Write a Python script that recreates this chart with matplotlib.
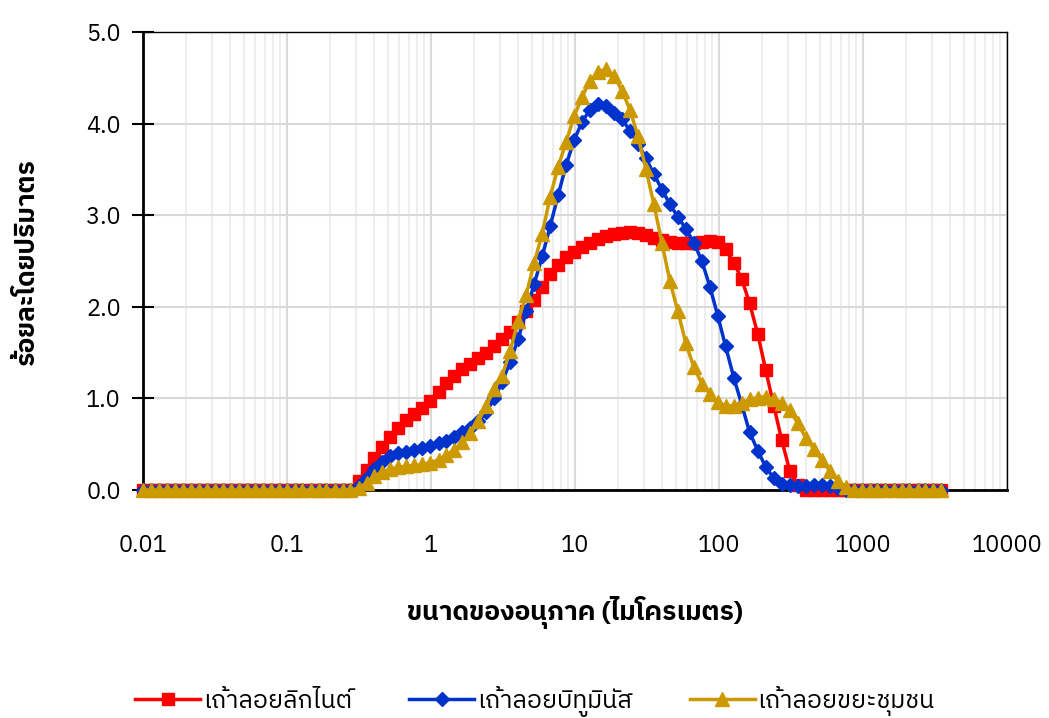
import numpy as np
import matplotlib
matplotlib.use("Agg")
import matplotlib.pyplot as plt
from matplotlib import font_manager
from matplotlib.ticker import FixedLocator, NullFormatter, FormatStrFormatter
from matplotlib.ft2font import FT2Font

# particle size classes (um)
size = [0.0100, 0.0114, 0.0129, 0.0147, 0.0167, 0.0189, 0.0215, 0.0244, 0.0278, 0.0315,
        0.0358, 0.0407, 0.0463, 0.0526, 0.0597, 0.0679, 0.0771, 0.0876, 0.0995, 0.113,
        0.128, 0.146, 0.166, 0.188, 0.214, 0.243, 0.276, 0.314, 0.357, 0.405,
        0.460, 0.523, 0.594, 0.675, 0.767, 0.872, 0.991, 1.13, 1.28, 1.45,
        1.65, 1.88, 2.13, 2.42, 2.75, 3.12, 3.55, 4.03, 4.58, 5.21,
        5.92, 6.72, 7.64, 8.68, 9.86, 11.2, 12.7, 14.5, 16.4, 18.7,
        21.2, 24.1, 27.4, 31.1, 35.3, 40.1, 45.6, 51.8, 58.9, 66.9,
        76.0, 86.4, 98.1, 111, 127, 144, 163, 186, 211, 240,
        272, 310, 352, 400, 454, 516, 586, 666, 756, 859,
        976, 1110, 1260, 1430, 1630, 1850, 2100, 2390, 2710, 3080, 3500]

lignite = [0.0] * 27 + [
    0.10, 0.22, 0.35, 0.47, 0.58, 0.68, 0.76, 0.83, 0.90,                # k27-35
    0.97, 1.07, 1.17, 1.25, 1.32, 1.38, 1.44, 1.50, 1.57, 1.65,          # k36-45
    1.72, 1.83, 1.95, 2.08, 2.22, 2.36, 2.46, 2.54, 2.60, 2.65,          # k46-55
    2.70, 2.74, 2.77, 2.80, 2.81, 2.82, 2.81, 2.78, 2.75, 2.73,          # k56-65
    2.71, 2.70, 2.70, 2.70, 2.71, 2.72, 2.71, 2.63, 2.48, 2.30,          # k66-75
    2.04, 1.70, 1.31, 0.92, 0.55, 0.21, 0.05] + [0.0] * 18               # k76-82

bituminous = [0.0] * 27 + [
    0.04, 0.13, 0.23, 0.31, 0.37, 0.40, 0.42, 0.44, 0.46,                # k27-35
    0.48, 0.51, 0.54, 0.58, 0.63, 0.68, 0.75, 0.85, 1.00, 1.18,          # k36-45
    1.40, 1.65, 1.95, 2.25, 2.55, 2.88, 3.22, 3.55, 3.82, 4.02,          # k46-55
    4.15, 4.21, 4.19, 4.12, 4.05, 3.92, 3.78, 3.62, 3.45, 3.28,          # k56-65
    3.12, 2.98, 2.85, 2.70, 2.50, 2.22, 1.90, 1.57, 1.22, 0.93,          # k66-75
    0.63, 0.43, 0.25, 0.13, 0.07, 0.05, 0.04, 0.04, 0.05, 0.05,          # k76-85
    0.04, 0.02] + [0.0] * 13

municipal = [0.0] * 27 + [
    0.02, 0.08, 0.15, 0.20, 0.23, 0.25, 0.26, 0.27, 0.28,                # k27-35
    0.30, 0.33, 0.38, 0.44, 0.52, 0.62, 0.75, 0.92, 1.10, 1.25,          # k36-45
    1.52, 1.85, 2.13, 2.48, 2.80, 3.20, 3.53, 3.80, 4.08, 4.29,          # k46-55
    4.47, 4.56, 4.60, 4.52, 4.36, 4.15, 3.86, 3.50, 3.12, 2.70,          # k56-65
    2.28, 1.95, 1.60, 1.34, 1.16, 1.05, 0.96, 0.92, 0.92, 0.95,          # k66-75
    0.99, 1.01, 1.02, 0.99, 0.95, 0.87, 0.73, 0.57, 0.45, 0.33,          # k76-85
    0.21, 0.10, 0.03] + [0.0] * 12

labels = ["เถ้าลอยลิกไนต์", "เถ้าลอยบิทูมินัส", "เถ้าลอยขยะชุมชน"]
xlabel = "ขนาดของอนุภาค (ไมโครเมตร)"
ylabel = "ร้อยละโดยปริมาตร"
xticks = [0.01, 0.1, 1, 10, 100, 1000, 10000]
xticklabels = ["0.01", "0.1", "1", "10", "100", "1000", "10000"]


def find_thai_font():
    names = []
    for f in font_manager.fontManager.ttflist:
        try:
            if 0x0E01 in FT2Font(f.fname).get_charmap():
                names.append(f.name)
        except Exception:
            pass
    names = sorted(set(names), key=lambda n: (0 if "Thai" in n else 1, n))
    return names


thai = find_thai_font()
plt.rcParams['font.family'] = thai[:2] + ['DejaVu Sans']

fig = plt.figure(figsize=(10.49, 7.18), dpi=100)
ax = fig.add_axes([0.1363, 0.3175, 0.8237, 0.6379])

ax.plot(size, lignite, color='#FF0000', lw=2.5, marker='s', ms=8.5,
        clip_on=False, zorder=3, label=labels[0])
ax.plot(size, bituminous, color='#0033CC', lw=2.5, marker='D', ms=7.5,
        clip_on=False, zorder=4, label=labels[1])
ax.plot(size, municipal, color='#CC9900', lw=2.5, marker='^', ms=9.5,
        clip_on=False, zorder=5, label=labels[2])

ax.set_xscale('log')
ax.set_xlim(0.01, 10000)
ax.set_ylim(0, 5)
ax.xaxis.set_major_locator(FixedLocator(xticks))
ax.set_xticklabels(xticklabels)
ax.xaxis.set_minor_locator(FixedLocator(
    [m * 10.0 ** e for e in range(-2, 4) for m in range(2, 10)]))
ax.xaxis.set_minor_formatter(NullFormatter())
ax.set_yticks(np.arange(0, 5.01, 1.0))
ax.yaxis.set_major_formatter(FormatStrFormatter('%.1f'))

ax.grid(which='major', axis='both', color='#D9D9D9', lw=1.5, zorder=0)
ax.grid(which='minor', axis='x', color='#EEEEEE', lw=1.5, zorder=0)
ax.set_axisbelow(True)

for s in ['top', 'right']:
    ax.spines[s].set_linewidth(1.0)
for s in ['left', 'bottom']:
    ax.spines[s].set_linewidth(2.0)

ax.tick_params(axis='x', which='both', length=0, labelsize=17, pad=32)
ax.tick_params(axis='y', which='major', direction='inout', length=16, width=1.5,
               labelsize=17, pad=8)

ax.set_xlabel(xlabel, fontsize=19, fontweight='bold', labelpad=28)
ax.set_ylabel(ylabel, fontsize=19, fontweight='bold', labelpad=34)

fig.legend(loc='lower center', bbox_to_anchor=(0.51, -0.03), ncol=3,
           frameon=False, fontsize=18, handlelength=2.6, columnspacing=2.3,
           handletextpad=0.1)

fig.savefig('out.png', dpi=100)
